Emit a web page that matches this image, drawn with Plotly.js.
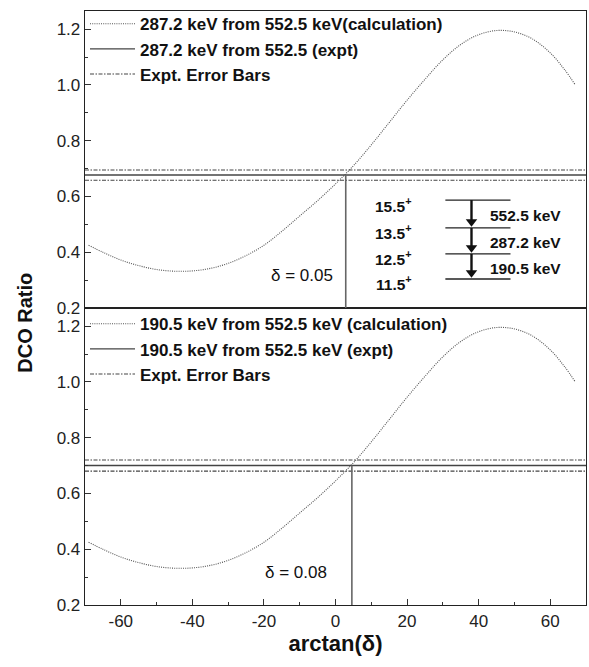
<!DOCTYPE html>
<html>
<head>
<meta charset="utf-8">
<script src="https://cdn.plot.ly/plotly-3.0.1.min.js"></script>
<style>html,body{margin:0;padding:0;background:#fff;}#chart{width:589px;height:667px;}</style>
</head>
<body>
<div id="chart"></div>
<script>
// ---- data ----
const arctanDelta = [-69,-65,-60,-55,-50,-45,-40,-35,-30,-25,-20,-15,-10,-5,0,5,10,15,20,25,30,35,40,45,50,55,60,64,67];
const dco287Calc = [0.425,0.40,0.372,0.352,0.338,0.332,0.333,0.342,0.36,0.388,0.425,0.475,0.53,0.585,0.645,0.71,0.785,0.865,0.945,1.02,1.09,1.145,1.18,1.195,1.19,1.165,1.115,1.055,1.00];
const dco190Calc = [0.425,0.40,0.372,0.352,0.338,0.332,0.333,0.342,0.36,0.388,0.425,0.475,0.53,0.585,0.645,0.71,0.785,0.865,0.945,1.02,1.09,1.145,1.18,1.195,1.19,1.165,1.115,1.055,1.00];
const dco287Expt = 0.677, dco287ErrHi = 0.695, dco287ErrLo = 0.658;
const dco190Expt = 0.700, dco190ErrHi = 0.720, dco190ErrLo = 0.680;
const delta287 = 0.05, delta190 = 0.08;
const xRange = [-70, 70];
const xTickVals = [-60,-40,-20,0,20,40,60];
const xTickText = ['-60','-40','-20','0','20','40','60'];
const yTickVals = [0.2,0.4,0.6,0.8,1.0,1.2];
const yTickText = ['0.2','0.4','0.6','0.8','1.0','1.2'];
const levelSpins = ['15.5','13.5','12.5','11.5'];
const gammaLabels = ['552.5 keV','287.2 keV','190.5 keV'];
const legendUpper = ['287.2 keV from 552.5 keV(calculation)','287.2 keV from 552.5 (expt)','Expt. Error Bars'];
const legendLower = ['190.5 keV from 552.5 keV (calculation)','190.5 keV from 552.5 keV (expt)','Expt. Error Bars'];

// ---- build ----
const deg = d => Math.atan(d) * 180 / Math.PI;
const FONT = 'Liberation Sans, Arial, sans-serif';

function panelTraces(xa, ya, calc, expt, hi, lo, delta, names, legendId) {
  const v = deg(delta);
  return [
    {x: arctanDelta, y: calc, xaxis: xa, yaxis: ya, mode: 'lines', name: names[0], legend: legendId,
     line: {color: '#555', width: 1.1, dash: '1px,1.2px', shape: 'spline'}},
    {x: xRange, y: [expt, expt], xaxis: xa, yaxis: ya, mode: 'lines', name: names[1], legend: legendId,
     line: {color: '#444', width: 1.4}},
    {x: [xRange[0], xRange[1], null, xRange[0], xRange[1]], y: [hi, hi, null, lo, lo], xaxis: xa, yaxis: ya,
     mode: 'lines', name: names[2], legend: legendId, line: {color: '#444', width: 1.1, dash: '4px,1.5px,1.5px,1.5px'}},
    {x: [v, v], y: [0.2, expt], xaxis: xa, yaxis: ya, mode: 'lines', showlegend: false,
     line: {color: '#666', width: 1.6}}
  ];
}

const data = [].concat(
  panelTraces('x2', 'y2', dco287Calc, dco287Expt, dco287ErrHi, dco287ErrLo, delta287, legendUpper, 'legend'),
  panelTraces('x', 'y', dco190Calc, dco190Expt, dco190ErrHi, dco190ErrLo, delta190, legendLower, 'legend2')
);

// level scheme (inset diagram in the upper panel)
const levelY = [0.587, 0.487, 0.394, 0.304];
const arrowX = 38, headOff = 0.022;
data.push({x: gammaLabels.map(() => arrowX), y: gammaLabels.map((g, i) => levelY[i + 1] + headOff),
  xaxis: 'x2', yaxis: 'y2', mode: 'markers', showlegend: false, hoverinfo: 'skip',
  marker: {symbol: 'triangle-down', size: 10, color: '#111', line: {width: 0}}});

const yAxisCommon = {
  range: [0.2, 1.265], tickvals: yTickVals, ticktext: yTickText, ticks: 'inside', ticklen: 6, tickwidth: 1,
  tickcolor: '#333', showline: true, linecolor: '#222', linewidth: 1.3, mirror: true, showgrid: false, zeroline: false,
  minor: {ticks: 'inside', dtick: 0.1, tick0: 0.2, ticklen: 3, tickcolor: '#333', showgrid: false},
  tickfont: {family: FONT, size: 17, color: '#222'}
};

const shapes = levelY.map(y => ({type: 'line', xref: 'x2', yref: 'y2', x0: 30.7, x1: 48.9, y0: y, y1: y,
  line: {color: '#222', width: 1.3}}));
gammaLabels.forEach((g, i) => shapes.push({type: 'line', xref: 'x2', yref: 'y2', x0: arrowX, x1: arrowX,
  y0: levelY[i], y1: levelY[i + 1] + headOff, line: {color: '#111', width: 2.4}}));

const annotations = [];
levelSpins.forEach((s, i) => annotations.push({xref: 'x2', yref: 'y2', x: 22, y: levelY[i] - 0.016, xanchor: 'right', yanchor: 'middle',
  text: '<b>' + s + '<sup>+</sup></b>', showarrow: false, font: {family: FONT, size: 15.5, color: '#111'}}));
gammaLabels.forEach((g, i) => annotations.push({xref: 'x2', yref: 'y2', x: 42.5, y: (levelY[i] + levelY[i + 1]) / 2 - 0.006,
  xanchor: 'left', yanchor: 'middle', text: '<b>' + g + '</b>', showarrow: false, font: {family: FONT, size: 15.5, color: '#111'}}));
annotations.push({xref: 'x2', yref: 'y2', x: -9.5, y: 0.315, text: 'δ = ' + delta287.toFixed(2), showarrow: false,
  font: {family: FONT, size: 17, color: '#111'}});
annotations.push({xref: 'x', yref: 'y', x: -11, y: 0.315, text: 'δ = ' + delta190.toFixed(2), showarrow: false,
  font: {family: FONT, size: 17, color: '#111'}});
annotations.push({xref: 'paper', yref: 'paper', x: -0.12, y: 0.475, xanchor: 'center', yanchor: 'middle', textangle: -90,
  text: '<b>DCO Ratio</b>', showarrow: false, font: {family: FONT, size: 20, color: '#111'}});

const legendCommon = {xref: 'paper', yref: 'paper', x: 0, xanchor: 'left', yanchor: 'top', bgcolor: 'rgba(0,0,0,0)',
  borderwidth: 0, itemwidth: 45, font: {family: FONT, size: 17, color: '#111', weight: 'bold'}, itemclick: false};

const layout = {
  width: 589, height: 667,
  margin: {l: 85, r: 3, t: 11, b: 62},
  paper_bgcolor: '#fff', plot_bgcolor: '#fff',
  font: {family: FONT, color: '#111'},
  xaxis: {anchor: 'y', range: xRange, tickvals: xTickVals, ticktext: xTickText, ticks: 'inside', ticklen: 6, tickwidth: 1,
    tickcolor: '#333', showline: true, linecolor: '#222', linewidth: 1.3, mirror: true, showgrid: false, zeroline: false,
    minor: {ticks: 'inside', dtick: 10, tick0: 0, ticklen: 3, tickcolor: '#333', showgrid: false},
    tickfont: {family: FONT, size: 17, color: '#222'},
    title: {text: '<b>arctan(δ)</b>', font: {family: FONT, size: 22, color: '#111'}, standoff: 4}},
  xaxis2: {anchor: 'y2', matches: 'x', range: xRange, showticklabels: false, ticks: '', showline: true, linecolor: '#222',
    linewidth: 1.3, mirror: true, showgrid: false, zeroline: false},
  yaxis: Object.assign({}, yAxisCommon, {domain: [0, 0.5], anchor: 'x'}),
  yaxis2: Object.assign({}, yAxisCommon, {domain: [0.5, 1], anchor: 'x2'}),
  legend: Object.assign({}, legendCommon, {y: 1.008}),
  legend2: Object.assign({}, legendCommon, {y: 0.503}),
  shapes: shapes,
  annotations: annotations
};

Plotly.newPlot('chart', data, layout, {displayModeBar: false, staticPlot: true});
</script>
</body>
</html>
